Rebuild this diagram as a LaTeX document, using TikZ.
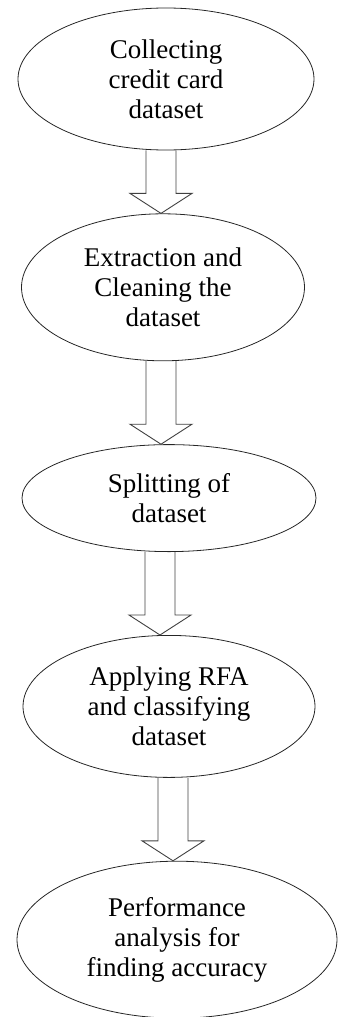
\documentclass[tikz,border=0pt]{standalone}
\usepackage{fontspec}
\setmainfont{Liberation Serif}
\usetikzlibrary{shapes.geometric,positioning,calc}

% hollow block arrow from the bottom of #1 down to the top of #2, axis shifted by #3
\newcommand{\blockarrow}[3]{%
  \draw[blkarr] let \p1=(#1.south), \p2=(#2.north) in
    (\x1+#3-15pt,\y1) -- (\x1+#3-15pt,\y2+20pt) -- (\x1+#3-31pt,\y2+20pt)
    -- (\x1+#3,\y2) -- (\x1+#3+31pt,\y2+20pt) -- (\x1+#3+15pt,\y2+20pt)
    -- (\x1+#3+15pt,\y1);
}

\begin{document}
\begin{tikzpicture}[x=1pt,y=-1pt]
\tikzstyle{ell}=[ellipse, draw=black!85, line width=0.8pt, inner sep=0pt, align=center,
  font=\fontsize{27}{30}\selectfont]
\tikzstyle{blkarr}=[draw=black!75, line width=0.9pt, line join=miter]
\useasboundingbox (0,0) rectangle (339,1017);
\node (collect) [ell, minimum width=296pt, minimum height=142pt] at (166,79)
  {Collecting\\credit card\\dataset};
\node (extract) [ell, minimum width=283pt, minimum height=147pt, below=63pt of collect, xshift=-3pt]
  {Extraction and\\Cleaning the\\dataset};
\node (split) [ell, minimum width=294pt, minimum height=107pt, below=83pt of extract, xshift=6pt]
  {Splitting of\\dataset};
\node (apply) [ell, minimum width=292pt, minimum height=142pt, below=83pt of split]
  {Applying RFA\\and classifying\\dataset};
\node (perf) [ell, minimum width=320pt, minimum height=157pt, below=83pt of apply, xshift=8pt]
  {Performance\\analysis for\\finding accuracy};

\blockarrow{collect}{extract}{-5pt}
\blockarrow{extract}{split}{-2pt}
\blockarrow{split}{apply}{-9pt}
\blockarrow{apply}{perf}{4pt}
\end{tikzpicture}
\end{document}
